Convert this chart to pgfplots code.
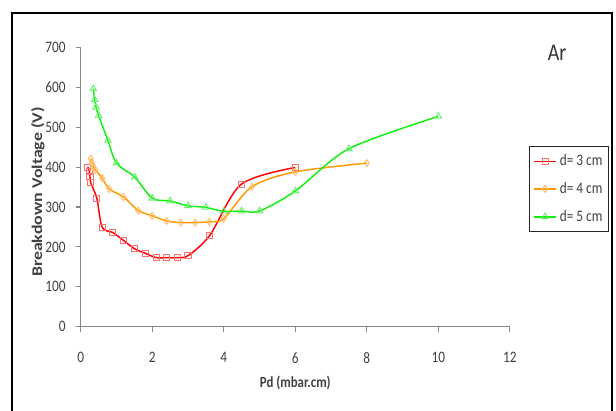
\documentclass[border=0pt]{standalone}
\usepackage{pgfplots}
\pgfplotsset{compat=1.18}
\usepackage{fontspec}
\setmainfont{Carlito}[FakeStretch=0.83]
\newfontfamily\ylabfont{Carlito}
\definecolor{axgray}{HTML}{868686}
\definecolor{txt}{HTML}{404040}
\definecolor{cred}{HTML}{FF0000}
\definecolor{corange}{HTML}{FF9900}
\definecolor{cgreen}{HTML}{11EE11}
\definecolor{mred}{HTML}{FF7070}
\definecolor{morange}{HTML}{FFBB66}
\definecolor{mgreen}{HTML}{66EE66}
\begin{document}
\begin{tikzpicture}[x=0.75pt,y=0.75pt]
\useasboundingbox (0,0) rectangle (616,410);
\begin{axis}[
  scale only axis,
  at={(60.525pt,62.475pt)}, anchor=south west,
  width=321.9pt, height=209.5pt,
  xmin=0, xmax=12, ymin=0, ymax=700,
  xtick={0,2,...,12}, ytick={0,100,...,700},
  axis x line*=bottom, axis y line*=left,
  axis line style={axgray, line width=0.8pt, -},
  tick style={axgray, line width=0.8pt},
  tick align=outside, major tick length=3.75pt,
  /pgf/number format/assume math mode=true,
  tick label style={font=\fontsize{12}{14}\selectfont, text=txt},
  xticklabel style={yshift=-12pt},
  yticklabel style={xshift=-4pt},
  xlabel={\bfseries Pd (mbar.cm)},
  xlabel style={font=\fontsize{11.6}{13}\selectfont, text=txt, at={(0.5,0)}, anchor=center, yshift=-42pt},
  ylabel={\scalebox{1}[0.83]{\ylabfont\bfseries Breakdown Voltage (V)}},
  ylabel style={font=\fontsize{13.4}{15}\selectfont, text=txt, at={(-0.0995,0.482)}, anchor=center},
  legend style={at={(1.045,0.6467)}, anchor=north west, draw=black!85, line width=0.6pt,
    font=\fontsize{12}{14}\selectfont, text=txt, row sep=7pt, inner xsep=2.5pt, inner ysep=4.2pt},
  legend cell align=left,
  every axis plot/.append style={line width=1.1pt, smooth, tension=0.5},
]
\addplot[cred, mark=square, mark size=2.3pt, mark options={mred, line width=0.7pt}] coordinates {
(0.20,400) (0.24,389) (0.26,376) (0.28,361) (0.45,322) (0.60,249) (0.90,236) (1.20,216)
(1.51,195) (1.81,184) (2.11,173) (2.40,173) (2.70,173) (3.00,178) (3.61,229) (4.49,357) (6.00,399)};
\addlegendentry{d= 3 cm}
\addplot[corange, mark=diamond, mark size=2.6pt, mark options={morange, line width=0.7pt}] coordinates {
(0.28,421) (0.32,410) (0.35,401) (0.41,393) (0.60,372) (0.80,345) (1.20,325) (1.61,291)
(2.00,278) (2.40,265) (2.80,261) (3.20,261) (3.60,263) (4.00,271) (4.79,351) (6.00,388) (8.00,410)};
\addlegendentry{d= 4 cm}
\addplot[cgreen, mark=triangle, mark size=2.8pt, mark options={mgreen, line width=0.7pt}] coordinates {
(0.35,596) (0.39,569) (0.43,550) (0.50,529) (0.76,467) (1.00,410) (1.51,375) (2.00,322)
(2.50,315) (3.00,303) (3.50,299) (4.00,289) (4.50,290) (5.00,290) (6.00,340) (7.50,446) (10.00,527)};
\addlegendentry{d= 5 cm}
\end{axis}
\node[font=\fontsize{18}{20}\selectfont, text=black!80] at (557,357) {Ar};
\draw[black, line width=1.7pt] (11.7,-10) -- (11.7,397) -- (611.7,397) -- (611.7,-10);
\end{tikzpicture}
\end{document}
